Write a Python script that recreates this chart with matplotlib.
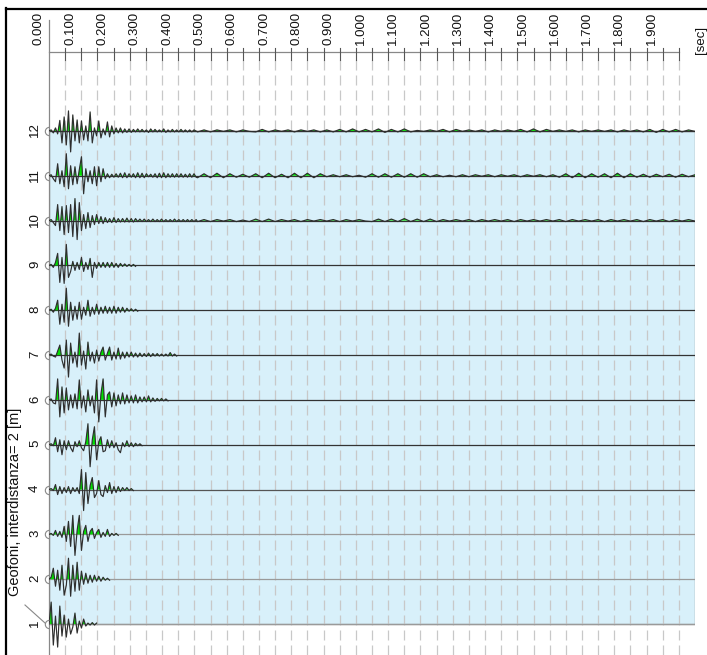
import numpy as np
import matplotlib
matplotlib.use("Agg")
import matplotlib.pyplot as plt
from matplotlib.lines import Line2D
from matplotlib.patches import Rectangle
from matplotlib.path import Path
from matplotlib import transforms

plt.rcParams["font.family"] = ["Liberation Sans", "DejaVu Sans"]
plt.rcParams["lines.scale_dashes"] = False

# Geophone traces: amplitude at successive half-cycles (step DT seconds)
DT = 0.0067
tr12 = [0, 1, -2, 3, -3, 10.5, -12, 14, -14, 20, -21, 16, -10, 11, -12, 10, -9, 5, -10, 19,
        -12, 3, -5, 10, -7, 2, -4, 9, -6, 5, -3, 3, -2, 3, -2, 2, -1.5, 2, -1.5, 1.5, -1, 2,
        -1, 1.5, -1, 1, -1.5, 2, -1, 1.5, -1, 1, -1, 2, -1.5, 1, -1, 1.5, -1, 1, -1, 1.5, -1,
        1, -1, 1, -1, 1]
tr11 = [0, 1, -3, -6, 12, -8, 5, -11, 22, -13, 10, -9, 9, -8, 6, 19, -18, 7, -6, 5, -8, 9,
        -10, 9, -6, 7, -3, 2, -2, 1.5, -1.5, 2, -1.5, 2.5, -2, 3, -2, 2, -1.5, 2, -2, 3, -2,
        2.5, -2, 2, -1, 1.5, -1.5, 2, -2, 2.5, -2, 3, -2, 2, -1.5, 2, -1.5, 2, -1.5, 2, -1.5,
        1.5, -1.5, 2, -1.5, 2, -1.5]
tr10 = [0, 1, -2, -5, 16, -10, 14, -14, 15, -12, 16, -16, 22, -19, 18, -10, 6, -8, 8, -7, 5,
        -4, 6, -3, 4, -3, 3, -2, 2, -2, 3, -2, 2, -1.5, 2, -1.5, 2.5, -1.5, 2, -1.5, 2, -1,
        1.5, -1, 1.5, -1, 1, -1, 1.5, -1, 1, -1, 1.5, -1, 1, -1, 1, -1, 1.5, -1, 1, -1, 1, -1,
        1, -1, 1, -1, 1]
tr9 = [0, 1, -2, 3, 12, -17, 8, -18, 21, -12, -6, 4, -5, 3, -4, 8, -6, 3, -4, 7, -12, 3, -3,
       3, -2, 3, -2, 3, -2, 3, -2, 2, -2, 2, -1, 1.5, -1, 1, -1, 1, -1]
tr8 = [0, 1, -2, 2, 10, -14, 6, -12, 22, -16, 8, -10, 4, -9, 8, -9, 3, -5, 10, -6, 3, -4, 6,
       -4, 3, -3, 4, -3, 3, -3, 4, -3, 3, -2, 3, -2, 2, -1, 1.5, -1, 1, -1]
tr7 = [0, 1, -1, -2, 4, 10, -5, -13, 15, -22, 12, -8, 3, -12, 22, -10, 4, -14, 13, -6, 3, -8,
       5, -6, 3, 8, -5, 2, 8, -5, 3, -4, 7, -4, 3, -3, 3, -2, 3, -2, 2, -2, 2, -1.5, 1.5,
       -1.5, 2, -1.5, 1.5, -1, 1.5, -1, 1, -1, 1, -1, 2.5, -1, 1, -1]
tr6 = [0, 1, -3, -4, 21, -17, 13, -13, 12, -10, 5, -8, 6, -9, 20, -8, 4, -12, 10, -6, 4, -13,
       20, -22, 6, 21, -17, 5, 8, -7, 7, -6, 5, -4, 7, -4, 5, -3, 4, -3, 5, -3, 3, -2, 3, -2,
       4, -2, 2, -1.5, 1.5, -1, 1.5, -1, 1, -1]
tr5 = [0, 1, -1, 7, -7, 5, -10, 4, -5, 4, -3, -7, 3, -2, 4, -3, -6, 3, 21, -22, 5, 18, -15, 3,
       8, -7, -6, 5, -3, 4, -3, 2, -5, -8, 2, -2, 4, -2, 2, -2, 1.5, -1, 1, -1]
tr4 = [0, 1, -1, 5, -5, 3, -4, 2, -3, 3, -4, 2, -2, 2, -4, 20, -21, 17, -14, 4, 12, -8, -4, 9,
       -5, -7, 4, -3, 7, -4, 3, -3, 3, -2, 2, -1, 2, -1, 1, -1]
tr3 = [0, 1, -1, 4, -2, 3, -3, 8, -7, 13, -12, 19, -21, 4, 19, -16, 3, 9, -7, 3, 6, -4, 2, 5,
       -3, 2, -2, 5, -2, 1, -1, 1, -1]
tr2 = [0, 2, 11, -7, 9, -11, 14, -16, -6, 21, -17, 14, -12, 17, -11, 8, -5, 6, -4, 4, -3, 4,
       -2, 3, -2, 2, -1, 1, -1]
tr1 = [0, 22, -21, 8, -23, 18, -12, 9, -13, 5, -10, -3, 11, -9, 3, -4, 5, -2, 1, -1, 1.5, -1, 1]

# late low-level ringing on the far geophones (step TAIL_DT from TAIL_T0)
TAIL_T0 = 0.46
TAIL_DT = 0.02
tail12 = [-1, 1, -1, 1, -0.5, 1, -1, 1, -0.5,
          -1, 1.5, -1, 1, -0.5, 1, -1, 1, -0.5, 1, -1, 1,
          -1, 1.5, -1, 2, -1, 1.5, -1, 2, -1.5, 1.5, -1, 2, -1,
          0.5, -0.5, 1, -0.5,
          1.5, -1, 1.5, -0.5,
          1, -0.5, 1, -1, 1, -0.5, 1, -0.5,
          1.5, -1, 2, -1, 1.5, -0.5,
          1, -0.5, 1, -1, 1, -0.5, 1, -0.5, 1, -1, 1, -0.5, 1,
          -1, 1.5, -1.5, 1.5, -1, 1.5, -1, 1, -0.5]
tail11 = [-2, 2, -2, 2.5, -2, 2, -1.5, 1.5, -1.5, 2,
          -2, 2.5, -2, 1.5,
          -2, 2.5, -2, 2.5, -2, 2,
          -1, 1, -1, 1, -1, 0.5,
          -1.5, 2, -1.5, 2, -1.5, 2, -1.5, 2, -1.5, 2, -1,
          1, -1, 0.5, -1,
          1, -1, 1, -0.5, 1, -1, 1, -0.5, 1, -1, 1, -0.5, 1, -1, 1,
          -1.5, 2, -2, 2.5, -2, 2, -1.5,
          2, -2, 2.5, -2, 2,
          -1.5, 1.5, -1.5, 1.5, -1, 1.5, -1.5, 1.5, -1, 1]
tail10 = [-1, 1, -1, 1, -0.5, 1, -1, 0.5,
          -1, 1.5, -1, 1.5, -1,
          1, -0.5, 1, -1, 1, -0.5, 1, -0.5, 1, -1, 1, -0.5, 1, -0.5,
          -1, 1.5, -1, 1.5, -1, 2, -1, 1.5, -1, 1.5, -1,
          1, -0.5, 1, -0.5, 1, -1, 1, -0.5, 1, -0.5, 1, -1, 1, -0.5, 1, -0.5,
          1, -0.5, 1, -1, 1, -0.5, 1, -0.5, 1, -1, 1, -0.5, 1, -0.5, 1, -1, 1, -0.5, 1, -1,
          1, -0.5, 1, -0.5]

traces = [tr1, tr2, tr3, tr4, tr5, tr6, tr7, tr8, tr9, tr10, tr11, tr12]
tails = {10: tail10, 11: tail11, 12: tail12}
geophones = list(range(1, 13))
baseline_colors = ["#9a9a9a", "#9a9a9a", "#9a9a9a", "#555555"] + ["#333333"] * 8

tick_times = np.round(np.arange(0, 1.951, 0.05), 3)
label_times = np.round(np.arange(0, 1.901, 0.1), 3)

T_MAX = 2.0
GAIN = 1 / 44.8
GREEN = "#00e000"
BLUE = "#d8f0fa"

fig = plt.figure(figsize=(7.07, 6.55), dpi=100)
W, H = 707, 655
ax = fig.add_axes([49 / W, 0, 646 / W, 603 / H])
Y0, Y1 = 0.31, 13.76
ax.set_xlim(0, T_MAX)
ax.set_ylim(Y0, Y1)
ax.axis("off")
PX = (Y1 - Y0) / 603.0  # data units per pixel vertically

# shaded record area
ax.add_patch(Rectangle((0, 1), T_MAX, 11, facecolor=BLUE, edgecolor="#9a9a9a",
                       lw=1.0, zorder=1))

# dashed vertical time grid
for t in tick_times[1:]:
    ax.plot([t, t], [Y0, Y1 - 8 * PX], color="#c8c8c8", lw=0.9,
            dashes=(7.2, 3.6), zorder=2, clip_on=False)

# top time axis
ax.plot([0, tick_times[-1]], [Y1, Y1], color="#888888", lw=0.9, zorder=5, clip_on=False)
ax.plot([0, 0], [Y0 - 5 * PX, Y1 + 32 * PX], color="#888888", lw=0.9, zorder=5, clip_on=False)
for t in tick_times[1:]:
    ax.plot([t, t], [Y1 - 8 * PX, Y1 + 4 * PX], color="#555555", lw=0.8, zorder=5,
            clip_on=False)
lab_tr = transforms.offset_copy(ax.transData, fig=fig, x=-11, y=0, units="dots")
for t in label_times:
    ax.text(t, Y1 + 7 * PX, f"{t:.3f}", transform=lab_tr, rotation=90, ha="center",
            va="bottom", fontsize=9.5, color="#111111")

# geophone traces
half_arc = Path.arc(90, 270)
for g, amp, bc in zip(geophones, traces, baseline_colors):
    ax.plot([0, T_MAX], [g, g], color=bc, lw=0.9, zorder=3)
    a = np.asarray(amp, dtype=float)
    t = np.arange(len(a)) * DT
    if g in tails:
        ta = np.asarray(tails[g], dtype=float)
        t = np.concatenate([t, TAIL_T0 + np.arange(len(ta)) * TAIL_DT])
        a = np.concatenate([a, ta])
    y = g + a * GAIN
    ax.fill_between(t, g, y, where=y >= g, interpolate=True, color=GREEN, lw=0, zorder=4)
    ax.plot(t, y, color="#2e2e2e", lw=0.85, zorder=5)
    ax.plot([0], [g], marker=half_arc, ms=6, mfc="none", mec="#888888", mew=0.8,
            zorder=6, clip_on=False)
    ax.text(0, g, str(g), transform=transforms.offset_copy(ax.transData, fig=fig, x=-14,
            y=1, units="dots"), rotation=90, ha="center", va="center", fontsize=9.5,
            color="#111111")

# axis titles
fig.text(15 / W, 1 - 502 / H, "Geofoni, interdistanza= 2 [m]", rotation=90,
         ha="center", va="center", fontsize=10.5, color="#111111")
fig.text(701 / W, 1 - 54 / H, "[sec]", rotation=90, ha="center", va="bottom",
         fontsize=9.5, color="#111111")
fig.add_artist(Line2D([25 / W, 45 / W], [1 - 605 / H, 1 - 623 / H], color="#888888",
                      lw=0.8))

# outer frame
fig.add_artist(Line2D([6 / W, 6 / W], [0, 1 - 8 / H], color="black", lw=1.6))
fig.add_artist(Line2D([6 / W, 1], [1 - 9 / H, 1 - 9 / H], color="black", lw=1.6))

fig.savefig("out.png", dpi=100)
